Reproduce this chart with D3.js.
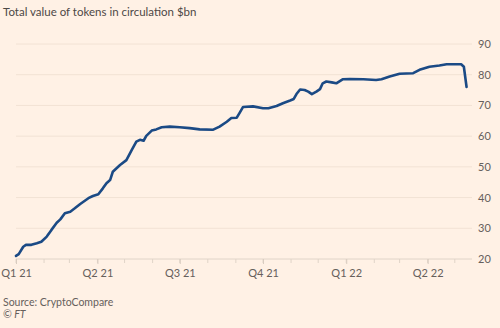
<!DOCTYPE html>
<html>
<head>
<meta charset="utf-8">
<script src="https://cdn.jsdelivr.net/npm/d3@7/dist/d3.min.js"></script>
<style>
  html, body { margin: 0; padding: 0; background: #fff1e5; }
  svg { display: block; }
  text { font-family: Lato, "Noto Sans", sans-serif; }
</style>
</head>
<body>
<svg id="chart" width="500" height="328"></svg>
<script>
// Total value of tokens in circulation, $bn
const dates = [
  "2021-01-01","2021-01-04","2021-01-09","2021-01-12","2021-01-18","2021-01-24","2021-01-29",
  "2021-02-04","2021-02-09","2021-02-15","2021-02-19","2021-02-24","2021-03-02","2021-03-07",
  "2021-03-13","2021-03-22","2021-03-27","2021-04-02","2021-04-07","2021-04-11","2021-04-15",
  "2021-04-18","2021-04-26","2021-05-03","2021-05-09","2021-05-14","2021-05-18","2021-05-22",
  "2021-05-25","2021-05-31","2021-06-05","2021-06-11","2021-06-20","2021-07-01","2021-07-12",
  "2021-07-23","2021-08-07","2021-08-14","2021-08-22","2021-08-27","2021-09-02","2021-09-05",
  "2021-09-09","2021-09-20","2021-10-01","2021-10-07","2021-10-16","2021-10-23","2021-10-31",
  "2021-11-04","2021-11-07","2021-11-11","2021-11-16","2021-11-20","2021-11-24","2021-11-29",
  "2021-12-03","2021-12-06","2021-12-10","2021-12-16","2021-12-21","2021-12-28","2022-01-05",
  "2022-01-20","2022-02-03","2022-02-09","2022-02-18","2022-03-01","2022-03-16","2022-03-23",
  "2022-04-03","2022-04-14","2022-04-22","2022-05-08","2022-05-11","2022-05-14"
];
const values = [
  21.0, 21.6, 24.0, 24.6, 24.6, 25.1, 25.6,
  27.3, 29.4, 31.8, 32.9, 34.9, 35.4, 36.5,
  37.9, 39.8, 40.5, 41.1, 43.0, 44.7, 45.7,
  48.4, 50.6, 52.2, 55.5, 58.2, 58.8, 58.5,
  60.1, 61.8, 62.2, 62.9, 63.1, 62.9, 62.6,
  62.2, 62.1, 63.1, 64.7, 65.9, 66.0, 67.5,
  69.5, 69.7, 69.1, 69.1, 69.8, 70.7, 71.6,
  72.1, 73.7, 75.2, 75.0, 74.5, 73.7, 74.5,
  75.3, 77.2, 77.8, 77.5, 77.2, 78.5, 78.6,
  78.5, 78.3, 78.5, 79.4, 80.3, 80.5, 81.6,
  82.6, 83.0, 83.4, 83.4, 82.6, 76.0
];
const yTicks = [20, 30, 40, 50, 60, 70, 80, 90];
const quarterTicks = ["2021-01-01","2021-04-01","2021-07-01","2021-10-01","2022-01-01","2022-04-01"];
const quarterLabels = ["Q1 21","Q2 21","Q3 21","Q4 21","Q1 22","Q2 22"];
const xStart = "2021-01-01", xEnd = "2022-05-20";

const parse = d3.timeParse("%Y-%m-%d");
const series = dates.map((d, i) => ({ date: parse(d), value: values[i] }));

const svg = d3.select("#chart");
const plotLeft = 16, plotRight = 472, plotTop = 44, plotBottom = 259;

const x = d3.scaleTime().domain([parse(xStart), parse(xEnd)]).range([plotLeft, plotRight]);
const y = d3.scaleLinear().domain([20, 90]).range([plotBottom, plotTop]);

// title
svg.append("text")
  .attr("x", 3).attr("y", 16)
  .attr("font-size", 11.5).attr("fill", "#4d4845")
  .text("Total value of tokens in circulation $bn");

// horizontal gridlines
svg.append("g").selectAll("line")
  .data(yTicks.filter(t => t !== 20))
  .join("line")
  .attr("x1", plotLeft).attr("x2", plotRight)
  .attr("y1", d => y(d)).attr("y2", d => y(d))
  .attr("stroke", "#f2e2d4").attr("stroke-width", 1);

// y axis labels on the right
const yAxis = d3.axisRight(y).tickValues(yTicks).tickSize(0).tickPadding(6);
svg.append("g")
  .attr("transform", `translate(${plotRight},0)`)
  .call(yAxis)
  .call(g => g.select(".domain").remove())
  .call(g => g.selectAll("text").attr("font-size", 11).attr("fill", "#66605c")
    .attr("font-family", "Lato, 'Noto Sans', sans-serif"));

// baseline
svg.append("line")
  .attr("x1", plotLeft).attr("x2", plotRight)
  .attr("y1", plotBottom).attr("y2", plotBottom)
  .attr("stroke", "#e0d4c8").attr("stroke-width", 1);

// monthly minor ticks
const months = d3.timeMonth.range(parse(xStart), parse(xEnd));
svg.append("g").selectAll("line")
  .data(months)
  .join("line")
  .attr("x1", d => x(d)).attr("x2", d => x(d))
  .attr("y1", plotBottom).attr("y2", plotBottom + 4)
  .attr("stroke", "#e0d4c8").attr("stroke-width", 1);

// quarter ticks with labels
const xAxis = d3.axisBottom(x)
  .tickValues(quarterTicks.map(parse))
  .tickFormat((d, i) => quarterLabels[i])
  .tickSize(5).tickPadding(5);
svg.append("g")
  .attr("transform", `translate(0,${plotBottom})`)
  .call(xAxis)
  .call(g => g.select(".domain").remove())
  .call(g => g.selectAll("line").attr("stroke", "#d9ccc0"))
  .call(g => g.selectAll("text").attr("font-size", 11).attr("fill", "#66605c")
    .attr("font-family", "Lato, 'Noto Sans', sans-serif"));

// the series line
const line = d3.line()
  .x(d => x(d.date))
  .y(d => y(d.value))
  .curve(d3.curveLinear);
svg.append("path")
  .datum(series)
  .attr("d", line)
  .attr("fill", "none")
  .attr("stroke", "#1b4a85")
  .attr("stroke-width", 2.6)
  .attr("stroke-linejoin", "round")
  .attr("stroke-linecap", "round");

// source and credit
svg.append("text")
  .attr("x", 3).attr("y", 306)
  .attr("font-size", 10.5).attr("fill", "#66605c")
  .text("Source: CryptoCompare");
svg.append("text")
  .attr("x", 3).attr("y", 318)
  .attr("font-size", 10.5).attr("font-style", "italic").attr("fill", "#66605c")
  .text("© FT");
</script>
</body>
</html>
